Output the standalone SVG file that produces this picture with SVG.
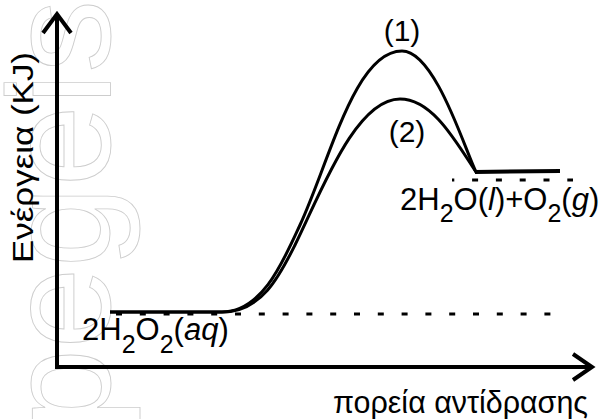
<svg xmlns="http://www.w3.org/2000/svg" width="603" height="419" viewBox="0 0 603 419">
<style>
.t{font-family:"Liberation Sans",Arial,sans-serif;fill:#000}
.ax{stroke:#000;stroke-width:4;fill:none}
.cv{stroke:#000;stroke-width:3;fill:none;stroke-linejoin:round}
.dash{stroke:#000;stroke-width:3;stroke-dasharray:6 17.8}
.wm{font-family:"Liberation Sans",Arial,sans-serif;font-size:146px;fill:none;stroke:#cdcdcd;stroke-width:0.9}
</style>
<rect width="603" height="419" fill="#fff"/>
<g id="watermark">
<text class="wm" transform="translate(110,430) rotate(-90)">pegeis</text>
</g>
<g id="axes">
<path class="ax" d="M57,369 V15 M43,33 L57,14 L71,33"/>
<path class="ax" d="M55,367 H591 M573,354 L592,367 L573,380"/>
</g>
<g id="levels">
<line class="dash" x1="116" y1="314" x2="556" y2="314"/>
<line class="dash" x1="452" y1="180" x2="573" y2="180" stroke-dashoffset="3.7"/>
<path d="M475,172 L560,171" stroke="#000" stroke-width="4" fill="none"/>
</g>
<g id="connectors">
<path id="curve1" class="cv" d="M110,312 L222,312 C262,312 283,262 300,225 C330,160 355,51 402,51 C435,51 465,150 476,172"/>
<path id="curve2" class="cv" d="M110,312 L222,312 C262,312 280,275 295,245 C320,195 355,99 400,99 C432,99 455,140 476,172"/>
</g>
<g id="labels">
<text class="t" font-size="29" textLength="211" lengthAdjust="spacingAndGlyphs" transform="translate(33,263) rotate(-90)">Ενέργεια (KJ)</text>
<text class="t" x="333" y="413" font-size="32" textLength="255" lengthAdjust="spacingAndGlyphs">πορεία αντίδρασης</text>
<text class="t" x="402" y="41" font-size="30" text-anchor="middle">(1)</text>
<text class="t" x="407" y="142" font-size="30" text-anchor="middle">(2)</text>
<text class="t" x="82" y="340" font-size="31">2H<tspan dy="13" font-size="25">2</tspan><tspan dy="-13">O</tspan><tspan dy="13" font-size="25">2</tspan><tspan dy="-13">(<tspan font-style="italic">aq</tspan>)</tspan></text>
<text class="t" x="400" y="210" font-size="31">2H<tspan dy="12" font-size="25">2</tspan><tspan dy="-12">O(<tspan font-style="italic">l</tspan>)+O</tspan><tspan dy="12" font-size="25">2</tspan><tspan dy="-12">(<tspan font-style="italic">g</tspan>)</tspan></text>
</g>
</svg>
